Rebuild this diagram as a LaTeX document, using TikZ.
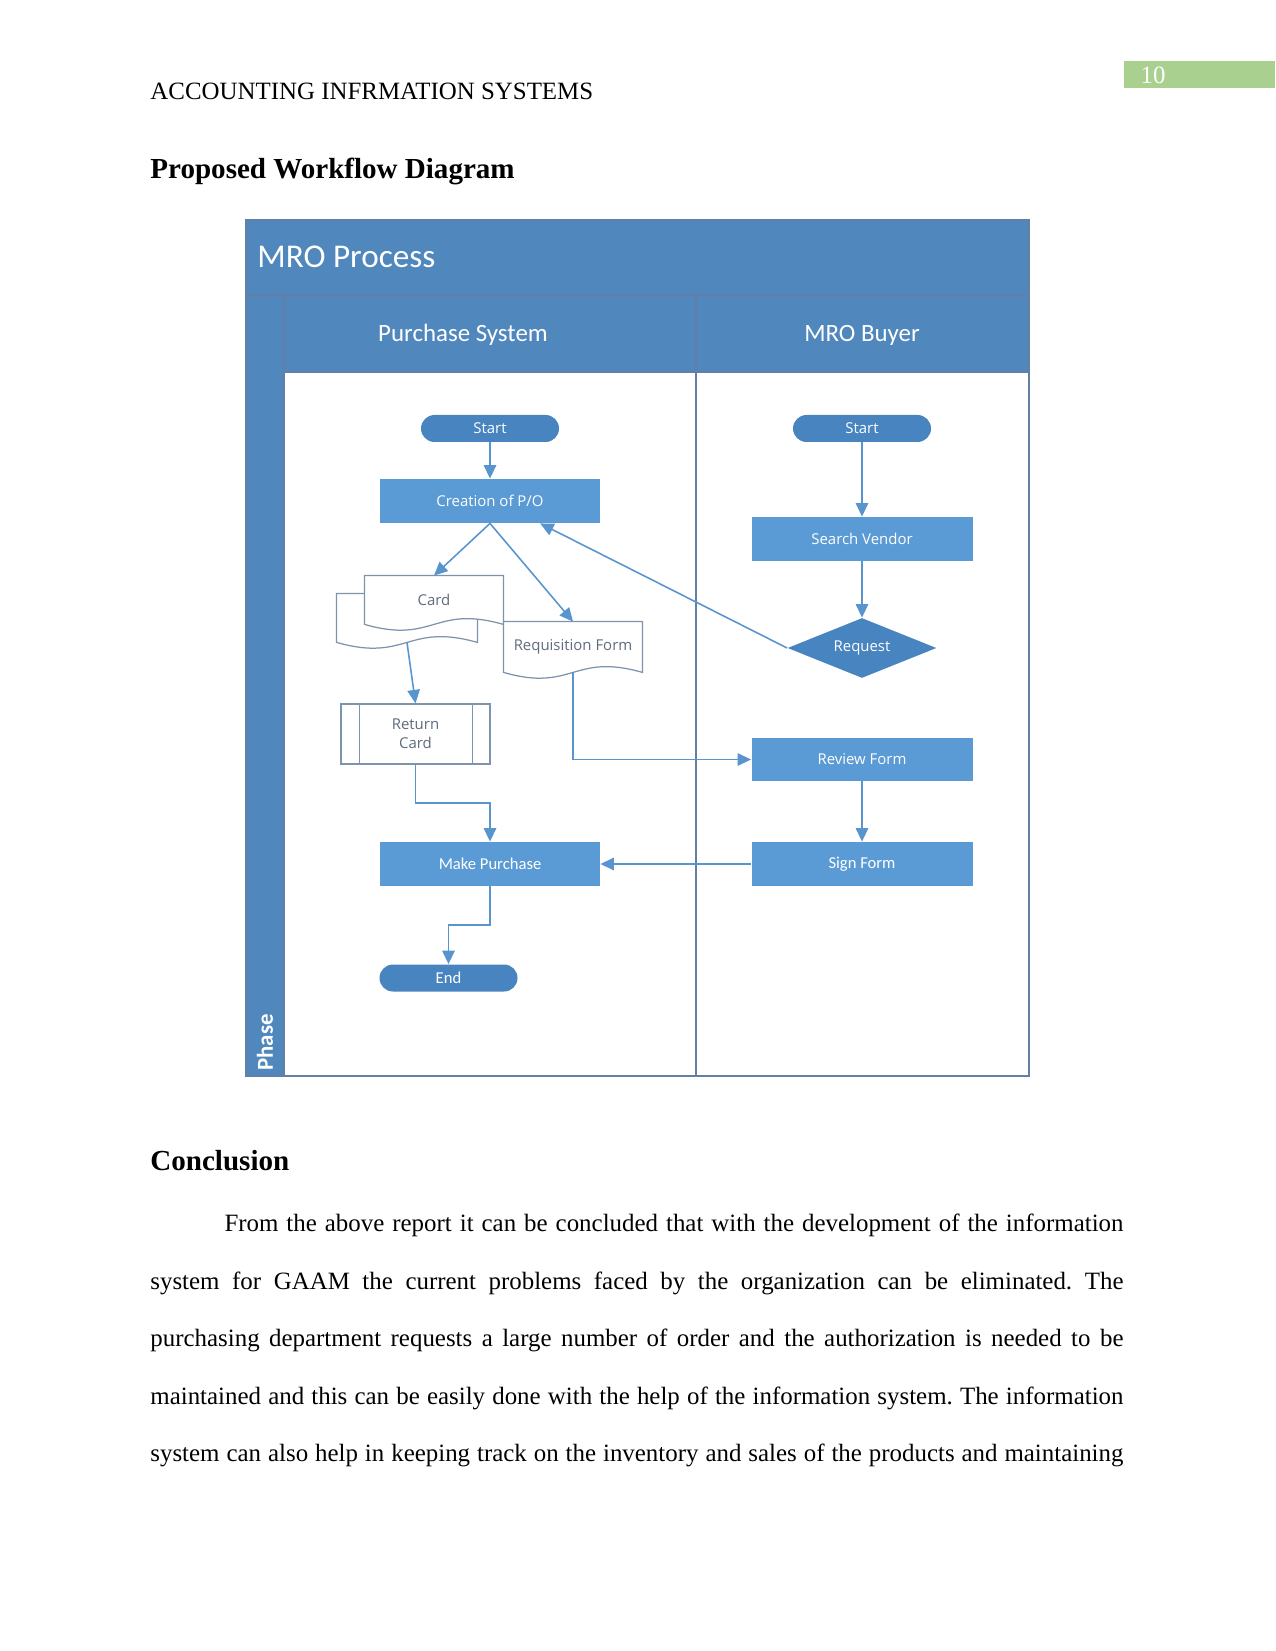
\documentclass[tikz,border=0pt]{standalone}
\usepackage{fontspec}
\setmainfont{Liberation Serif}
\newfontfamily\visiofont{Open Sans}
\newfontfamily\calibrifont{Carlito}
\usetikzlibrary{arrows.meta, calc, shapes.geometric, backgrounds}
\frenchspacing

\definecolor{LaneBlue}{RGB}{80,135,189}
\definecolor{LaneEdge}{RGB}{98,128,165}
\definecolor{StepBlue}{RGB}{91,155,213}
\definecolor{TermBlue}{RGB}{72,132,192}
\definecolor{LineBlue}{RGB}{88,148,206}
\definecolor{DocEdge}{RGB}{125,148,172}
\definecolor{DocText}{RGB}{95,108,124}
\definecolor{PageGreen}{RGB}{169,208,142}

\newcommand{\pxu}{0.4818pt}
\newcommand{\bodyw}{468.8pt}
% document outline with the wavy lower edge
\newcommand{\docpath}[1]{(#1.north west) -- (#1.north east) -- (#1.south east)
  .. controls ($(#1.south)+(0,-20)$) and ($(#1.south)+(0,20)$) .. (#1.south west) -- cycle}

\tikzset{
  stepbox/.style={
    rectangle, fill=StepBlue, text=white, inner sep=0pt,
    minimum width=220*\pxu, minimum height=44*\pxu,
    font=\visiofont\fontsize{7.2}{8.5}\selectfont
  },
  termbox/.style={
    rectangle, rounded corners=6.5pt, fill=TermBlue, text=white, inner sep=0pt,
    minimum width=138*\pxu, minimum height=27*\pxu,
    font=\visiofont\fontsize{7.2}{8.5}\selectfont
  },
  docbox/.style={
    rectangle, inner sep=0pt, text=DocText,
    minimum width=138*\pxu, minimum height=48*\pxu,
    font=\visiofont\fontsize{7.2}{8.5}\selectfont
  },
  procbox/.style={
    rectangle, draw=DocEdge, fill=white, line width=0.6pt, text=DocText,
    inner sep=0pt, align=center,
    minimum width=149*\pxu, minimum height=60*\pxu,
    font=\visiofont\fontsize{7.2}{9}\selectfont
  },
  decbox/.style={
    diamond, aspect=2.48, fill=TermBlue, text=white, inner sep=0pt,
    minimum width=149*\pxu, minimum height=60*\pxu,
    font=\visiofont\fontsize{7.2}{8.5}\selectfont
  },
  docline/.style={draw=DocEdge, fill=white, line width=0.6pt},
  laneline/.style={draw=LaneEdge, line width=0.7pt},
  lanehead/.style={text=white, anchor=base, inner sep=0pt,
    font=\calibrifont\fontsize{12}{14}\selectfont},
  arrow/.style={
    -{Triangle[length=6.5pt, width=6pt]},
    draw=LineBlue, line width=0.75pt
  },
  bodyline/.style={anchor=base west, inner sep=0pt, font=\fontsize{12}{14}\selectfont}
}

\begin{document}
\begin{tikzpicture}[x=0.4818pt, y=-0.4818pt]

\useasboundingbox (0,0) rectangle (1275,1651);

% ── Page header and headings ──────────────────────────────────────────────────

\fill[PageGreen] (1124,61) rectangle (1275,88);
\node[anchor=base, inner sep=0pt, text=white, font=\fontsize{12}{14}\selectfont] (pgno) at (1153,84) {10};
\node[bodyline] (hdr) at (150,99.5) {ACCOUNTING INFRMATION SYSTEMS};
\node[bodyline, font=\fontsize{14}{16}\bfseries\selectfont] (ttl) at (150,178.5) {Proposed Workflow Diagram};

% ── Swimlanes ─────────────────────────────────────────────────────────────────

\begin{scope}[on background layer]
  \fill[white] (0,0) rectangle (1275,1651);
  \fill[white] (284,372) rectangle (1029,1076);
  \fill[LaneBlue] (246,220) rectangle (1029,372);
  \fill[LaneBlue] (246,295) rectangle (284,1076);
  \draw[laneline] (246,220) rectangle (1029,1076);
  \draw[laneline] (246,295) -- (1029,295);
  \draw[laneline] (284,372) -- (1029,372);
  \draw[laneline] (284,295) -- (284,1076);
  \draw[laneline] (696,295) -- (696,1076);
\end{scope}

\node[anchor=west, inner sep=0pt, text=white, font=\calibrifont\fontsize{16}{18}\selectfont] (title) at (257,257) {MRO Process};
\node[lanehead] (lanePS) at (463,342) {Purchase System};
\node[lanehead] (laneMB) at (862,342) {MRO Buyer};
\node[anchor=west, rotate=90, inner sep=0pt, text=white, font=\calibrifont\bfseries\fontsize{11}{13}\selectfont] (phase) at (265,1071) {Phase};

% ── Purchase System lane ──────────────────────────────────────────────────────

\node[termbox] (startps) at (490,428.5) {Start};
\node[stepbox] (cpo) at (490,501) {Creation of P/O};
\node[docbox, minimum width=140*\pxu] (cardback) at (407,618) {};
\node[docbox] (card) at (434,600) {Card};
\node[docbox, minimum height=50*\pxu] (reqf) at (573,647) {Requisition Form};
\node[procbox] (retc) at (415.5,734) {Return\\Card};
\node[stepbox, font=\calibrifont\fontsize{8}{10}\selectfont] (mkp) at (490,864) {Make Purchase};
\node[termbox, font=\calibrifont\fontsize{8}{10}\selectfont] (endps) at (448.5,978) {End};

% ── MRO Buyer lane ────────────────────────────────────────────────────────────

\node[termbox] (startmb) at (862,428.5) {Start};
\node[stepbox, minimum width=221*\pxu] (srchv) at (862,539) {Search Vendor};
\node[decbox] (reqst) at (862,648) {Request};
\node[stepbox, minimum width=221*\pxu, minimum height=43*\pxu] (revf) at (862,759.5) {Review Form};
\node[stepbox, minimum width=221*\pxu, font=\calibrifont\fontsize{8}{10}\selectfont] (sgnf) at (862,864) {Sign Form};

% document outlines and the side bars of the predefined process
\begin{scope}[on background layer]
  \path[docline] \docpath{cardback};
  \path[docline] \docpath{card};
  \path[docline] \docpath{reqf};
\end{scope}
\draw[draw=DocEdge, line width=0.6pt] ($(retc.north west)+(19,0)$) -- ($(retc.south west)+(19,0)$);
\draw[draw=DocEdge, line width=0.6pt] ($(retc.north east)+(-18,0)$) -- ($(retc.south east)+(-18,0)$);

% ── Connectors ────────────────────────────────────────────────────────────────

\coordinate (cpoin) at ($(cpo.south west)!0.727!(cpo.south east)$);

\draw[arrow] (startps.south) -- (cpo.north);
\draw[arrow] (cpo.south) -- (card.north);
\draw[arrow] (cpo.south) -- (reqf.north);
\draw[arrow] (reqst.west) -- (cpoin);
\draw[arrow] (cardback.south) -- (retc.north);
\draw[arrow] (reqf.south) |- (revf.west);
\draw[arrow] (retc.south) |- ($(retc.south)!0.5!(mkp.north)$) -| (mkp.north);
\draw[arrow] (mkp.south) |- ($(mkp.south)!0.5!(endps.north)$) -| (endps.north);
\draw[arrow] (startmb.south) -- (srchv.north);
\draw[arrow] (srchv.south) -- (reqst.north);
\draw[arrow] (revf.south) -- (sgnf.north);
\draw[arrow] (sgnf.west) -- (mkp.east);

% ── Conclusion ────────────────────────────────────────────────────────────────

\node[bodyline, font=\fontsize{14}{16}\bfseries\selectfont] (concl) at (150,1170) {Conclusion};
\node[bodyline] (body1) at (150,1231.5) {\hbox to \bodyw{\hspace*{35.7pt}From the above report it can be concluded that with the development of the information}};
\node[bodyline] (body2) at (150,1289.1) {\hbox to \bodyw{system for GAAM the current problems faced by the organization can be eliminated. The}};
\node[bodyline] (body3) at (150,1346.7) {\hbox to \bodyw{purchasing department requests a large number of order and the authorization is needed to be}};
\node[bodyline] (body4) at (150,1404.3) {\hbox to \bodyw{maintained and this can be easily done with the help of the information system. The information}};
\node[bodyline] (body5) at (150,1461.9) {\hbox to \bodyw{system can also help in keeping track on the inventory and sales of the products and maintaining}};

\end{tikzpicture}
\end{document}
